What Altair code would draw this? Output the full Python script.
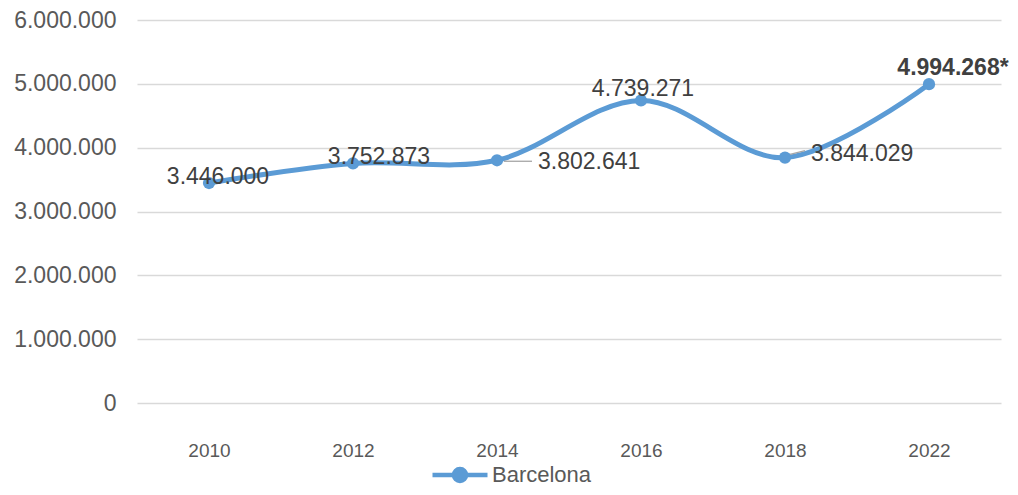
import altair as alt
import pandas as pd

years = ["2010", "2012", "2014", "2016", "2018", "2022"]
values = [3446000, 3752873, 3802641, 4739271, 3844029, 4994268]
series_name = "Barcelona"
label_suffix = ["", "", "", "", "", "*"]
y_ticks = [0, 1000000, 2000000, 3000000, 4000000, 5000000, 6000000]


def fmt(v):
    return f"{v:,}".replace(",", ".")


df = pd.DataFrame({
    "year": years,
    "value": values,
    "series": series_name,
    "label": [fmt(v) + s for v, s in zip(values, label_suffix)],
})

BLUE = "#5B9BD5"
FONT = "Liberation Sans"

# label placement relative to each point (layout, in pixels)
placements = {
    "2010": dict(dx=9, dy=-6, align="center", bold=False),
    "2012": dict(dx=26, dy=-6, align="center", bold=False),
    "2014": dict(dx=41, dy=2, align="left", bold=False),
    "2016": dict(dx=2, dy=-11, align="center", bold=False),
    "2018": dict(dx=26, dy=-4, align="left", bold=False),
    "2022": dict(dx=24, dy=-16, align="center", bold=True),
}

x_enc = alt.X(
    "year:O", sort=years,
    scale=alt.Scale(type="point", padding=0.5),
    axis=alt.Axis(title=None, labelAngle=0, domain=False, ticks=False,
                  labelFont=FONT, labelFontSize=19, labelBaseline="middle",
                  labelColor="#595959", labelPadding=47, grid=False),
)
y_enc = alt.Y(
    "value:Q",
    scale=alt.Scale(domain=[0, 6000000], nice=False),
    axis=alt.Axis(title=None, values=y_ticks, domain=False, ticks=False,
                  labelExpr="replace(format(datum.value, ','), regexp(',', 'g'), '.')",
                  labelFont=FONT, labelFontSize=23, labelColor="#595959",
                  labelPadding=21, grid=True, gridColor="#D9D9D9", gridWidth=1.5),
)

base = alt.Chart(df)

line = base.mark_line(interpolate="cardinal", strokeWidth=5, color=BLUE).encode(x=x_enc, y=y_enc)

points = base.mark_point(filled=True, size=150, opacity=1).encode(
    x=x_enc, y=y_enc,
    color=alt.Color(
        "series:N",
        scale=alt.Scale(range=[BLUE]),
        legend=alt.Legend(
            title=None, orient="none", legendX=293, legendY=425,
            symbolType="M-1,0H1M-0.22,0A0.22,0.22 0 1,1 0.22,0A0.22,0.22 0 1,1 -0.22,0Z",
            symbolSize=3025, symbolStrokeWidth=4.5, symbolStrokeColor=BLUE,
            symbolFillColor=BLUE, symbolOpacity=1,
            labelFont=FONT, labelFontSize=22, labelColor="#595959",
            labelOffset=2, padding=0, offset=0,
        ),
    ),
)

leader_2014 = base.mark_rule(color="#A6A6A6", strokeWidth=1.3, xOffset=7, x2Offset=35,
                             yOffset=1, y2Offset=1).encode(
    x=x_enc, x2="year:O", y=y_enc, y2="value:Q"
).transform_filter(alt.datum.year == "2014")

leader_2018 = base.mark_rule(color="#A6A6A6", strokeWidth=1.3, xOffset=4, x2Offset=20,
                             yOffset=-3, y2Offset=-7).encode(
    x=x_enc, x2="year:O", y=y_enc, y2="value:Q"
).transform_filter(alt.datum.year == "2018")

labels = []
for yr, p in placements.items():
    labels.append(
        base.mark_text(
            dx=p["dx"], dy=p["dy"], align=p["align"], baseline="middle",
            font=FONT, fontSize=23, color="#404040",
            fontWeight="bold" if p["bold"] else "normal",
        ).encode(x=x_enc, y=y_enc, text="label:N").transform_filter(alt.datum.year == yr)
    )

chart = alt.layer(line, leader_2014, leader_2018, points, *labels).properties(
    width=864, height=383,
    autosize=alt.AutoSizeParams(type="none"),
    padding={"left": 129, "top": 12, "right": 9, "bottom": 84},
).configure(font=FONT).configure_view(strokeWidth=0, stroke="transparent")

chart.save("out.html", embed_options={"renderer": "svg", "actions": False})
